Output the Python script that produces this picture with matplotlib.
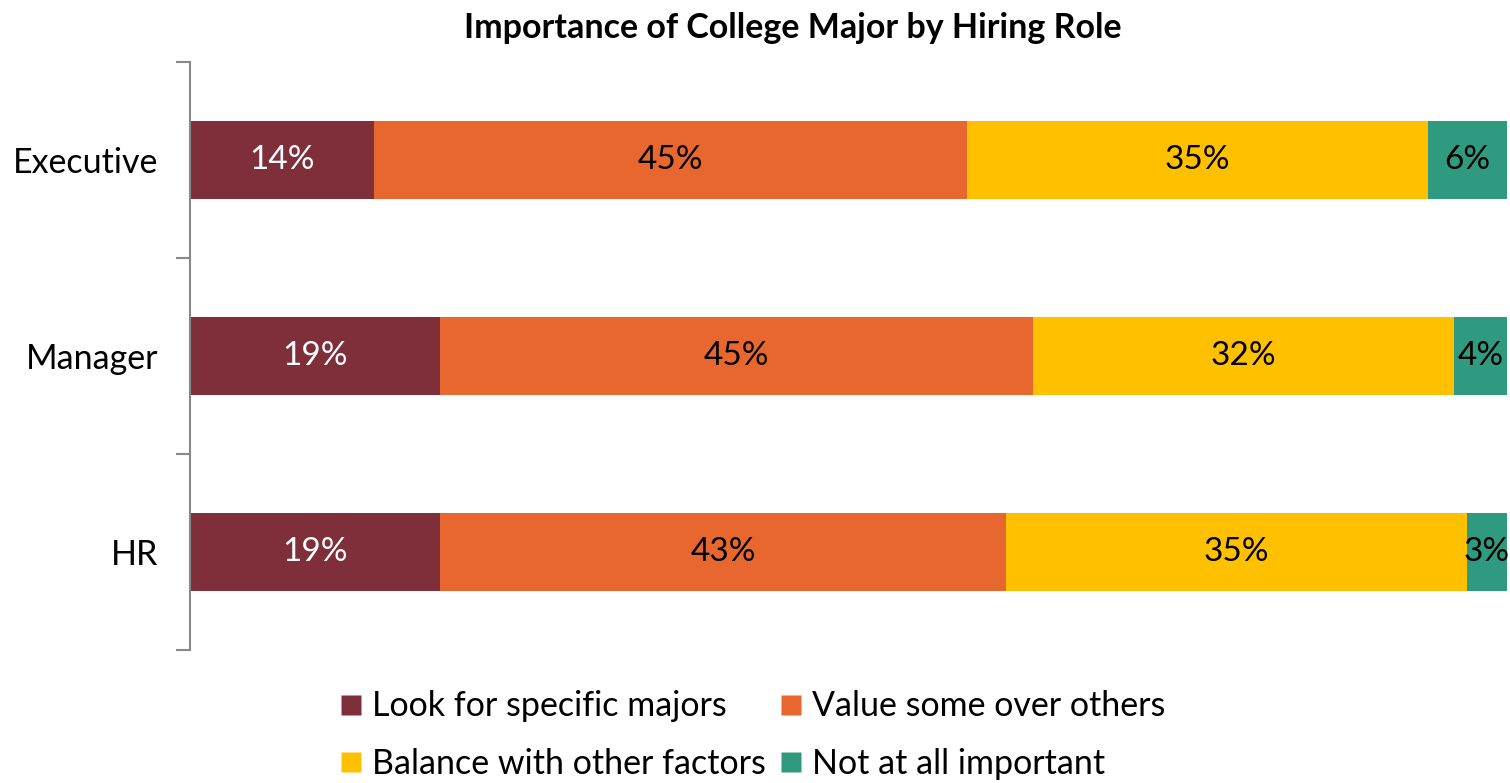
import numpy as np
import matplotlib.pyplot as plt
from matplotlib.lines import Line2D

plt.rcParams['font.family'] = ['Lato', 'DejaVu Sans']

roles = ['HR', 'Manager', 'Executive']
series = ['Look for specific majors', 'Value some over others',
          'Balance with other factors', 'Not at all important']
look = [19, 19, 14]
value = [43, 45, 45]
balance = [35, 32, 35]
not_imp = [3, 4, 6]

colors = ['#7E2F3A', '#E8672F', '#FFC000', '#2F9A7F']
text_colors = ['white', 'black', 'black', 'black']

fig = plt.figure(figsize=(15.1, 7.83), dpi=100)
ax = fig.add_axes([0.1258, 0.17, 0.872, 0.751])

y = np.arange(len(roles))
left = np.zeros(len(roles))
for vals, c, tc in zip([look, value, balance, not_imp], colors, text_colors):
    vals = np.array(vals)
    ax.barh(y, vals, left=left, height=0.4, color=c, edgecolor='none')
    for yi, l, v in zip(y, left, vals):
        ax.text(l + v / 2, yi, f'{v}%', ha='center', va='center',
                fontsize=24, color=tc)
    left += vals

ax.set_xlim(0, 100)
ax.set_ylim(-0.5, 2.5)
ax.set_xticks([])
ax.set_yticks([-0.5, 0.5, 1.5, 2.5])
ax.set_yticklabels([])
ax.set_yticks(y, minor=True)
ax.set_yticklabels(roles, minor=True, fontsize=24.5)
ax.tick_params(axis='y', which='major', length=10, color='#888888', width=1.5)
ax.tick_params(axis='y', which='minor', length=0, pad=23)
for s in ['top', 'right', 'bottom']:
    ax.spines[s].set_visible(False)
ax.spines['left'].set_color('#888888')
ax.spines['left'].set_linewidth(1.5)

fig.text(0.525, 0.964, 'Importance of College Major by Hiring Role',
         ha='center', va='center', fontsize=24.5, fontweight='bold')

order = [0, 2, 1, 3]
handles = [Line2D([], [], marker='s', linestyle='none', markersize=14,
                  markerfacecolor=colors[i], markeredgecolor='none') for i in order]
labels = [series[i] for i in order]
fig.legend(handles, labels, ncol=2, loc='center', bbox_to_anchor=(0.497, 0.061),
           frameon=False, fontsize=24.5, handletextpad=0.15, columnspacing=0.3,
           labelspacing=0.75, handlelength=0.9)

fig.savefig('out.png', dpi=100)
